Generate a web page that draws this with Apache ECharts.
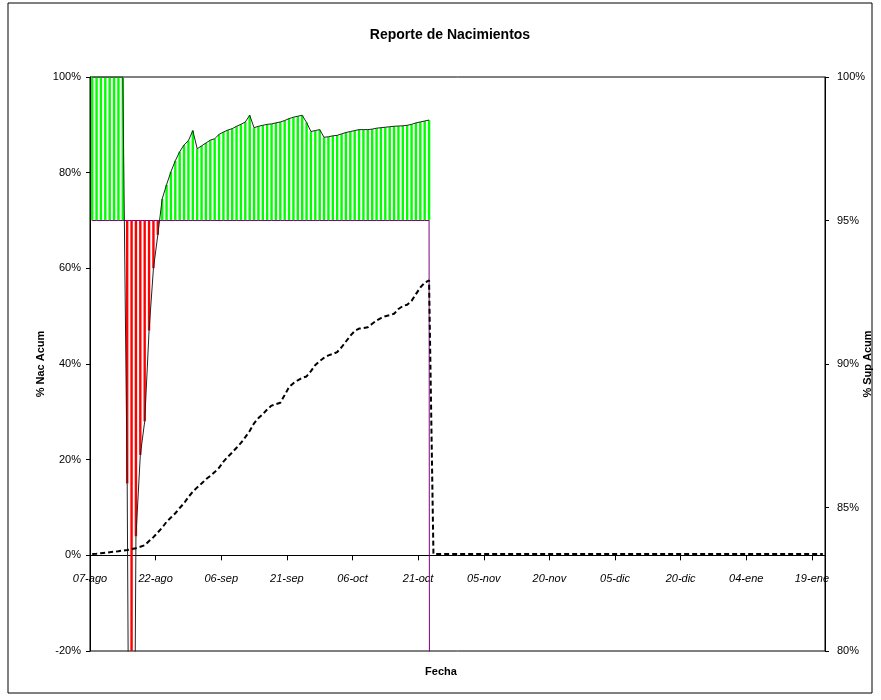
<!DOCTYPE html>
<html>
<head>
<meta charset="utf-8">
<script src="https://cdn.jsdelivr.net/npm/echarts@6/dist/echarts.min.js"></script>
<style>
html,body{margin:0;padding:0;background:#fff;}
#c{width:881px;height:700px;}
</style>
</head>
<body>
<div id="c"></div>
<script>
// ---- data ----
const totalDays = 168;           // 07-ago .. 21-ene
const tickStep = 15;
const tickLabels = ['07-ago','22-ago','06-sep','21-sep','06-oct','21-oct','05-nov','20-nov','05-dic','20-dic','04-ene','19-ene'];
const baseLevel = 70;            // bars grow from this level
const yMin = -20, yMax = 100;
// daily value drawn as bars + thin line (left-axis units)
const supValues = [
  100,100,100,100,100,100,100,100,
  15,-150,4,21,28,47,60,67,
  74.5,77.5,80.2,82.5,84.4,85.8,86.7,88.8,85.0,85.6,86.2,86.8,87.1,88.0,88.5,88.9,
  89.2,89.7,90.1,90.6,92.0,89.4,89.7,89.9,90.1,90.2,90.4,90.6,90.9,91.3,91.6,91.8,
  92.0,90.5,88.6,88.8,89.0,87.4,87.5,87.7,87.8,88.1,88.4,88.6,88.8,89.0,89.0,89.0,
  89.1,89.3,89.4,89.5,89.6,89.7,89.75,89.8,89.9,90.1,90.4,90.6,90.8,91.0
];
// cumulative births (%), dashed line
const nacAcum = [
  0.3,0.35,0.45,0.55,0.65,0.75,0.85,1.0,1.1,1.3,1.5,1.8,2.1,3.0,3.8,4.8,
  5.8,7.0,7.9,8.8,9.9,10.9,12.2,13.3,14.2,15.0,15.9,16.6,17.4,18.3,19.6,20.6,
  21.5,22.5,23.5,24.7,26.0,27.6,28.7,29.5,30.5,31.3,31.6,31.9,33.5,35.2,36.0,36.6,
  37.1,37.4,38.5,39.8,40.6,41.3,41.8,42.1,42.5,43.5,44.7,45.9,46.9,47.4,47.5,47.7,
  48.4,49.1,49.6,50.0,50.2,50.5,51.5,52.1,52.4,53.2,54.6,56.0,57.0,57.5,
  0.3,0.3,0.3,0.3,0.3,0.3,0.3,0.3,0.3,0.3,0.3,0.3,0.3,0.3,0.3,0.3,0.3,0.3,
  0.3,0.3,0.3,0.3,0.3,0.3,0.3,0.3,0.3,0.3,0.3,0.3,0.3,0.3,0.3,0.3,0.3,0.3,
  0.3,0.3,0.3,0.3,0.3,0.3,0.3,0.3,0.3,0.3,0.3,0.3,0.3,0.3,0.3,0.3,0.3,0.3,
  0.3,0.3,0.3,0.3,0.3,0.3,0.3,0.3,0.3,0.3,0.3,0.3,0.3,0.3,0.3,0.3,0.3,0.3,
  0.3,0.3,0.3,0.3,0.3,0.3,0.3,0.3,0.3,0.3,0.3,0.3,0.3,0.3,0.3,0.3,0.3,0.3
];
const baseDropValue = -1000;     // baseline series falls off after the last day

// ---- build series points (x = day slot centre) ----
const supPts = supValues.map((v, i) => [i + 0.5, v]);
const nacPts = nacAcum.map((v, i) => [i + 0.5, v]);
const basePts = supValues.map((v, i) => [i + 0.5, baseLevel]);
basePts.push([supValues.length + 0.5, baseDropValue]);

const GRID = {left: 90, right: 56, top: 77, bottom: 49};
const plotH = 700 - GRID.top - GRID.bottom;
// lift the date axis from the plot bottom up to the 0% level of the left axis
const zeroOffset = -plotH * (0 - yMin) / (yMax - yMin);

const FONT = "'Liberation Sans', Arial, sans-serif";
const chart = echarts.init(document.getElementById('c'), null, {renderer: 'canvas'});
chart.setOption({
  animation: false,
  backgroundColor: '#fff',
  graphic: [
    {type: 'rect', shape: {x: 8, y: 3, width: 864, height: 690}, style: {fill: 'none', stroke: '#000', lineWidth: 1}, silent: true, z: -1},
    {type: 'text', x: 450, y: 35, style: {text: 'Reporte de Nacimientos', font: "bold 14px 'Liberation Sans', Arial, sans-serif", fill: '#000', textAlign: 'center', textVerticalAlign: 'middle'}},
    {type: 'text', x: 441, y: 672, style: {text: 'Fecha', font: "bold 11px 'Liberation Sans', Arial, sans-serif", fill: '#000', textAlign: 'center', textVerticalAlign: 'middle'}}
  ],
  grid: Object.assign({show: true, borderColor: '#000', borderWidth: 1, backgroundColor: 'transparent', containLabel: false, outerBoundsMode: 'none'}, GRID),
  xAxis: {
    type: 'value', min: 0, max: totalDays, interval: tickStep,
    offset: zeroOffset,
    axisLine: {show: true, onZero: false, lineStyle: {color: '#000', width: 1}},
    axisTick: {show: true, length: 5, lineStyle: {color: '#000'}},
    axisLabel: {
      margin: 18, fontSize: 11, fontStyle: 'italic', color: '#000', fontFamily: FONT,
      showMaxLabel: false,
      formatter: v => (v % tickStep === 0 && tickLabels[v / tickStep]) ? tickLabels[v / tickStep] : ''
    },
    splitLine: {show: false}
  },
  yAxis: [
    {
      type: 'value', min: yMin, max: yMax, interval: 20, position: 'left',
      name: '% Nac Acum', nameLocation: 'middle', nameGap: 44, nameRotate: 90, nameMoveOverlap: false,
      nameTextStyle: {fontWeight: 'bold', fontSize: 11, color: '#000', fontFamily: FONT},
      axisLine: {show: true, lineStyle: {color: '#000'}},
      axisTick: {show: true, length: 4, lineStyle: {color: '#000'}},
      axisLabel: {formatter: '{value}%', fontSize: 11, color: '#000', margin: 9, fontFamily: FONT},
      splitLine: {show: false}
    },
    {
      type: 'value', min: 80, max: 100, interval: 5, position: 'right',
      name: '% Sup Acum', nameLocation: 'middle', nameGap: 37, nameRotate: 90, nameMoveOverlap: false,
      nameTextStyle: {fontWeight: 'bold', fontSize: 11, color: '#000', fontFamily: FONT},
      axisLine: {show: true, lineStyle: {color: '#000'}},
      axisTick: {show: true, length: 4, lineStyle: {color: '#000'}},
      axisLabel: {formatter: '{value}%', fontSize: 11, color: '#000', margin: 12, fontFamily: FONT},
      splitLine: {show: false}
    }
  ],
  series: [
    {
      type: 'custom', name: 'barras', xAxisIndex: 0, yAxisIndex: 0, data: supPts,
      encode: {x: 0, y: 1}, z: 2,
      renderItem: function (params, api) {
        const x = api.value(0), v = api.value(1);
        const p1 = api.coord([x, baseLevel]);
        const p2 = api.coord([x, v]);
        const w = api.size([1, 0])[0] * 0.55;
        const cs = params.coordSys;
        const r = echarts.graphic.clipRectByRect(
          {x: p1[0] - w / 2, y: Math.min(p1[1], p2[1]), width: w, height: Math.abs(p2[1] - p1[1])},
          {x: cs.x, y: cs.y, width: cs.width, height: cs.height});
        if (!r) return null;
        return {type: 'rect', shape: r, style: {fill: v >= baseLevel ? '#00FF00' : '#FF0000'}};
      }
    },
    {
      type: 'line', name: 'base', data: basePts, yAxisIndex: 0, showSymbol: false, symbol: 'none',
      lineStyle: {color: '#800080', width: 1}, z: 3, clip: true
    },
    {
      type: 'line', name: 'sup', data: supPts, yAxisIndex: 0, showSymbol: false, symbol: 'none',
      lineStyle: {color: '#222', width: 1}, z: 4, clip: true
    },
    {
      type: 'line', name: '% Nac Acum', data: nacPts, yAxisIndex: 0, showSymbol: false, symbol: 'none',
      lineStyle: {color: '#000', width: 2, type: [5, 3]}, z: 5, clip: true
    }
  ]
});
</script>
</body>
</html>
